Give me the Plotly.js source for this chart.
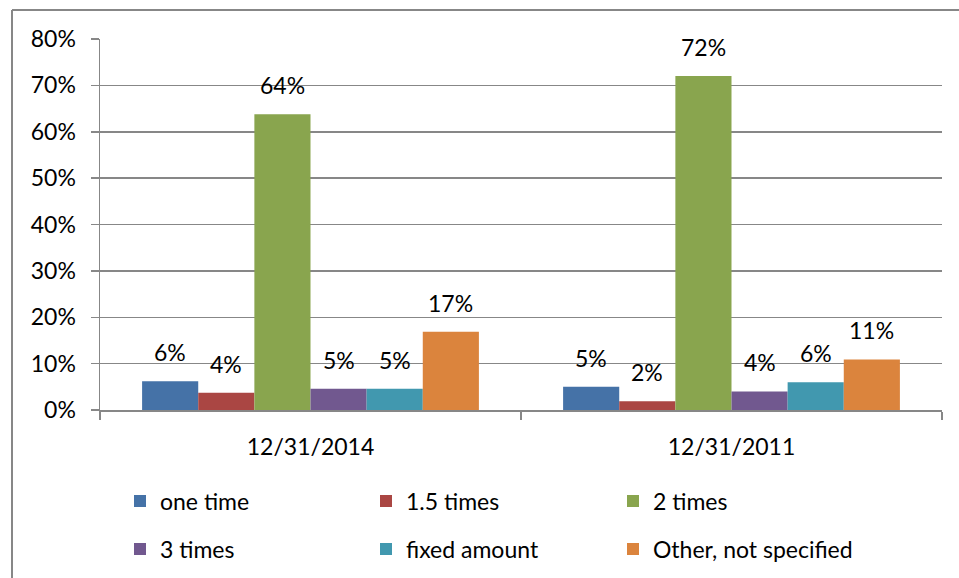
<!DOCTYPE html>
<html>
<head>
<meta charset="utf-8">
<script src="https://cdn.plot.ly/plotly-3.0.1.min.js"></script>
<style>html,body{margin:0;padding:0;background:#fff}#chart{width:959px;height:578px}</style>
</head>
<body>
<div id="chart"></div>
<script>
var categories = ['12/31/2014', '12/31/2011'];
var seriesNames = ['one time', '1.5 times', '2 times', '3 times', 'fixed amount', 'Other, not specified'];
var oneTime = [0.062, 0.050];
var onePointFive = [0.037, 0.019];
var twoTimes = [0.638, 0.720];
var threeTimes = [0.046, 0.040];
var fixedAmount = [0.046, 0.060];
var otherNotSpecified = [0.169, 0.109];
var colors = ['#4572A7', '#AA4643', '#89A54E', '#71588F', '#4198AF', '#DB843D'];

var allValues = [oneTime, onePointFive, twoTimes, threeTimes, fixedAmount, otherNotSpecified];
var FONT = 'Lato, "Open Sans", sans-serif';
var FS = 23;
var GRID = '#878787';

var W = 959, H = 578;
var mL = 100, mR = 17, mT = 39, mB = 168;
var pw = W - mL - mR, ph = H - mT - mB;
function px2x(p){ return (p - mL) / pw; }
function py2y(p){ return (H - mB - p) / ph; }

var bargap = 0.2;
var n = allValues.length;
var traces = [];
var annotations = [];
var legendCols = [120, 366, 613];
var legendRows = [501, 549];
var layout = {
  width: W, height: H,
  margin: {l: mL, r: mR, t: mT, b: mB, pad: 0},
  paper_bgcolor: '#fff', plot_bgcolor: '#fff',
  font: {family: FONT, size: FS, color: '#000'},
  barmode: 'group',
  bargap: bargap,
  bargroupgap: 0,
  xaxis: {
    type: 'category',
    tickson: 'boundaries',
    ticks: 'outside', ticklen: 8, tickwidth: 1.5, tickcolor: GRID,
    showline: true, linecolor: GRID, linewidth: 1.5,
    showgrid: false, zeroline: false,
    ticklabelstandoff: 16,
    tickfont: {family: FONT, size: FS, color: '#000'},
    fixedrange: true
  },
  yaxis: {
    range: [0, 0.8], dtick: 0.1, tickformat: '.0%',
    ticks: 'outside', ticklen: 8, tickwidth: 1.5, tickcolor: GRID,
    showline: true, linecolor: GRID, linewidth: 1.5,
    showgrid: true, gridcolor: GRID, gridwidth: 1.5,
    zeroline: false,
    ticklabelstandoff: 10,
    tickfont: {family: FONT, size: FS, color: '#000'},
    fixedrange: true
  },
  showlegend: true,
  shapes: [
    {type: 'line', xref: 'paper', yref: 'paper', x0: px2x(12), x1: px2x(980), y0: py2y(10), y1: py2y(10), line: {color: GRID, width: 2}},
    {type: 'line', xref: 'paper', yref: 'paper', x0: px2x(12), x1: px2x(12), y0: py2y(10), y1: py2y(600), line: {color: GRID, width: 2}}
  ]
};

for (var i = 0; i < n; i++) {
  var lname = i === 0 ? 'legend' : 'legend' + (i + 1);
  traces.push({
    type: 'bar',
    name: seriesNames[i],
    x: categories,
    y: allValues[i],
    marker: {color: colors[i], line: {width: 0}},
    legend: lname,
    hoverinfo: 'skip'
  });
  layout[lname] = {
    orientation: 'h', xref: 'container', yref: 'container',
    x: legendCols[i % 3] / W, y: 1 - legendRows[Math.floor(i / 3)] / H,
    xanchor: 'left', yanchor: 'middle',
    font: {family: FONT, size: FS, color: '#000'},
    bgcolor: 'rgba(0,0,0,0)'
  };
  var off = -(1 - bargap) / 2 + (i + 0.5) * (1 - bargap) / n;
  for (var j = 0; j < categories.length; j++) {
    annotations.push({
      x: j + off, y: allValues[i][j], xref: 'x', yref: 'y',
      text: Math.round(allValues[i][j] * 100) + '%',
      showarrow: false, yanchor: 'bottom', yshift: 13,
      font: {family: FONT, size: FS, color: '#000'}
    });
  }
}
layout.annotations = annotations;

Plotly.newPlot('chart', traces, layout, {displayModeBar: false, staticPlot: true});
</script>
</body>
</html>
